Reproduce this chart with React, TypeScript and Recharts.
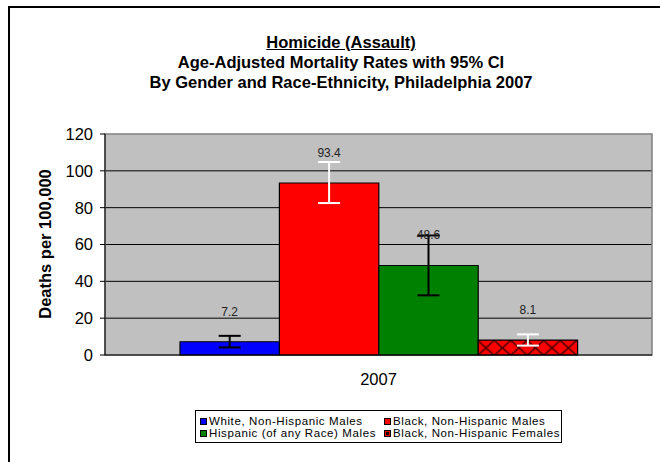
import {
    BarChart,
    Bar,
    XAxis,
    YAxis,
    CartesianGrid,
    ErrorBar,
    LabelList,
    ReferenceArea,
} from "recharts";

const categories = ["2007"];
const seriesNames = [
    "White, Non-Hispanic Males",
    "Black, Non-Hispanic Males",
    "Hispanic (of any Race) Males",
    "Black, Non-Hispanic Females",
];
const rates = [7.2, 93.4, 48.6, 8.1];
const ciLow = [4.1, 82.5, 32.4, 5.1];
const ciHigh = [10.4, 104.8, 64.9, 11.2];
const fills = ["#0000FF", "#FF0000", "#008000", "url(#hatch)"];
const errorColors = ["#000000", "#FFFFFF", "#000000", "#FFFFFF"];
const yTicks = [0, 20, 40, 60, 80, 100, 120];
const gridValues = [20, 40, 60, 80, 100];

const FONT = "Arial, 'Liberation Sans', sans-serif";

const rows = categories.map((c) => {
    const row: Record<string, any> = { category: c };
    seriesNames.forEach((_, i) => {
        row["s" + i] = rates[i];
        row["e" + i] = [rates[i] - ciLow[i], ciHigh[i] - rates[i]];
    });
    return row;
});

const renderValue = (props: any) => {
    const { x, y, width, value } = props;
    return (
        <text
            x={x + width / 2}
            y={y - 30}
            textAnchor="middle"
            dominantBaseline="central"
            fontSize={12}
            fontFamily={FONT}
            fill="#222"
        >
            {value}
        </text>
    );
};

const renderYLabel = () => (
    <text
        x={45}
        y={244}
        transform="rotate(-90 45 244)"
        textAnchor="middle"
        dominantBaseline="central"
        fontSize={16.5}
        fontWeight="bold"
        fontFamily={FONT}
        fill="#000"
    >
        Deaths per 100,000
    </text>
);

function Swatch({ i }: { i: number }) {
    return (
        <svg width={7} height={7} style={{ display: "block" }}>
            <rect x={0.5} y={0.5} width={6} height={6} fill={i === 3 ? "#FF0000" : fills[i]} stroke="#000" />
            {i === 3 && <rect x={2} y={2} width={3} height={3} fill="#000" />}
        </svg>
    );
}

export default function App() {
    const legendPos = [
        [4, 10],
        [188, 10],
        [4, 22.5],
        [188, 22.5],
    ];
    return (
        <div
            style={{
                position: "absolute",
                left: 0,
                top: 0,
                width: 660,
                height: 462,
                background: "#fff",
                fontFamily: FONT,
                overflow: "hidden",
            }}
        >
            <div
                style={{
                    position: "absolute",
                    left: 8,
                    top: 6,
                    width: 660,
                    height: 470,
                    borderTop: "2px solid #000",
                    borderLeft: "2px solid #000",
                }}
            />
            <div
                style={{
                    position: "absolute",
                    left: 91,
                    top: 32,
                    width: 500,
                    textAlign: "center",
                    fontSize: 16.5,
                    fontWeight: "bold",
                    lineHeight: "20px",
                    whiteSpace: "nowrap",
                }}
            >
                <div style={{ textDecoration: "underline" }}>Homicide (Assault)</div>
                <div>Age-Adjusted Mortality Rates with 95% CI</div>
                <div>By Gender and Race-Ethnicity, Philadelphia 2007</div>
            </div>
            <div style={{ position: "absolute", left: 0, top: 0 }}>
                <BarChart
                    width={660}
                    height={462}
                    data={rows}
                    margin={{ top: 134, right: 8, left: 45, bottom: 77 }}
                    barGap={0}
                >
                    <defs>
                        <pattern id="hatch" patternUnits="userSpaceOnUse" width={16.5} height={15} x={477.7} y={340.4}>
                            <rect width={16.5} height={15} fill="#FF0000" />
                            <path d="M0,0 L16.5,15 M16.5,0 L0,15" stroke="#400" strokeWidth={1.5} />
                        </pattern>
                    </defs>
                    <CartesianGrid
                        vertical={false}
                        horizontalValues={gridValues}
                        stroke="#000"
                        fill="#C0C0C0"
                        fillOpacity={1}
                    />
                    <ReferenceArea y1={0} y2={120} fill="none" stroke="#808080" strokeWidth={1.5} />
                    <XAxis
                        dataKey="category"
                        height={30}
                        axisLine={{ stroke: "#000" }}
                        tickLine={false}
                        tickSize={0}
                        tickMargin={18}
                        tick={{ fill: "#000", fontSize: 16.5, fontFamily: FONT }}
                    />
                    <YAxis
                        width={60}
                        domain={[0, 120]}
                        ticks={yTicks}
                        interval={0}
                        axisLine={{ stroke: "#000" }}
                        tickLine={{ stroke: "#000" }}
                        tickSize={5}
                        tickMargin={7}
                        tick={{ fill: "#000", fontSize: 16.5, fontFamily: FONT }}
                        label={renderYLabel}
                    />
                    {seriesNames.map((name, i) => (
                        <Bar
                            key={name}
                            dataKey={"s" + i}
                            name={name}
                            fill={fills[i]}
                            stroke="#000"
                            strokeWidth={1.2}
                            barSize={99.4}
                            isAnimationActive={false}
                        >
                            <ErrorBar
                                dataKey={"e" + i}
                                width={11}
                                stroke={errorColors[i]}
                                strokeWidth={2}
                            />
                            <LabelList dataKey={"s" + i} content={renderValue} />
                        </Bar>
                    ))}
                </BarChart>
            </div>
            <div
                style={{
                    position: "absolute",
                    left: 195,
                    top: 410,
                    width: 365,
                    height: 31,
                    border: "1px solid #000",
                    background: "#fff",
                    fontSize: 11.5,
                    letterSpacing: "0.6px",
                }}
            >
                {seriesNames.map((name, i) => (
                    <div
                        key={name}
                        style={{
                            position: "absolute",
                            left: legendPos[i][0],
                            top: legendPos[i][1] - 5.5,
                            height: 11,
                            lineHeight: "11px",
                            display: "flex",
                            alignItems: "center",
                            whiteSpace: "nowrap",
                            color: "#000",
                        }}
                    >
                        <Swatch i={i} />
                        <span style={{ marginLeft: 2 }}>{name}</span>
                    </div>
                ))}
            </div>
        </div>
    );
}
